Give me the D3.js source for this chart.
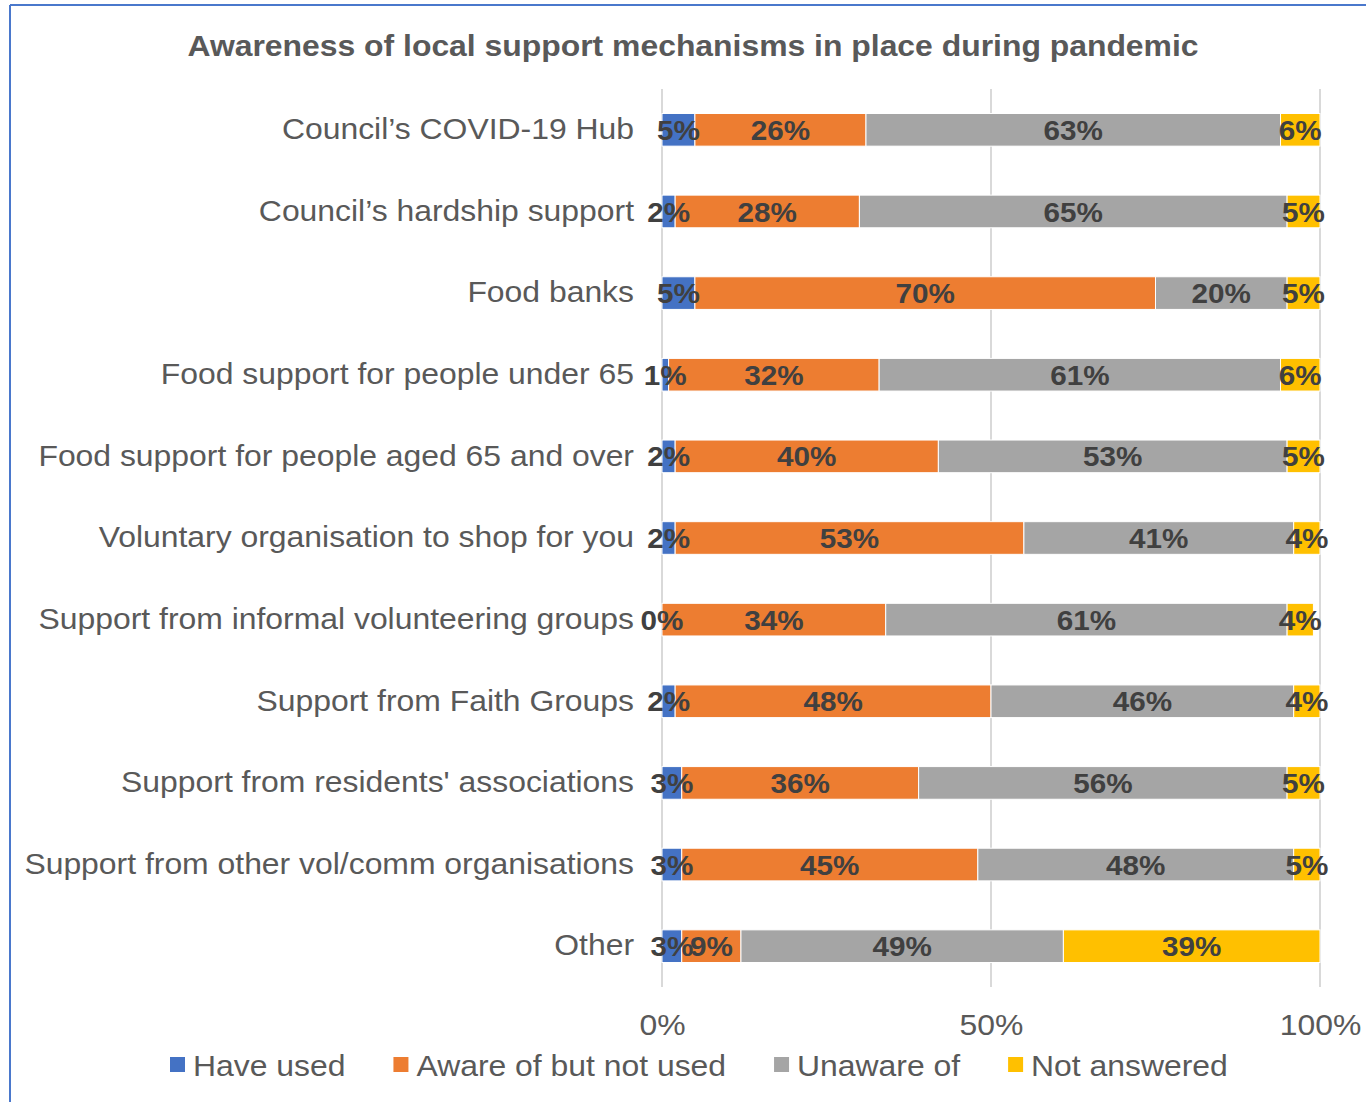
<!DOCTYPE html>
<html>
<head>
<meta charset="utf-8">
<script src="https://cdn.jsdelivr.net/npm/d3@7/dist/d3.min.js"></script>
<style>
  html, body { margin: 0; padding: 0; background: #fff; }
  svg { display: block; font-family: "Liberation Sans", Arial, sans-serif; }
</style>
</head>
<body>
<svg id="chart" width="1366" height="1102"></svg>
<script>
// Survey categories (top to bottom)
const categories = [
  "Council\u2019s COVID-19 Hub",
  "Council\u2019s hardship support",
  "Food banks",
  "Food support for people under 65",
  "Food support for people aged 65 and over",
  "Voluntary organisation to shop for you",
  "Support from informal volunteering groups",
  "Support from Faith Groups",
  "Support from residents' associations",
  "Support from other vol/comm organisations",
  "Other"
];

// Response shares (%) per category
const haveUsed     = [5, 2, 5, 1, 2, 2, 0, 2, 3, 3, 3];
const awareNotUsed = [26, 28, 70, 32, 40, 53, 34, 48, 36, 45, 9];
const unawareOf    = [63, 65, 20, 61, 53, 41, 61, 46, 56, 48, 49];
const notAnswered  = [6, 5, 5, 6, 5, 4, 4, 4, 5, 5, 39];

const seriesNames = ["Have used", "Aware of but not used", "Unaware of", "Not answered"];
const seriesColors = ["#4472C4", "#ED7D31", "#A5A5A5", "#FFC000"];
const tickValues = [0, 50, 100];
const chartTitle = "Awareness of local support mechanisms in place during pandemic";

const rows = categories.map((c, i) => ({
  category: c,
  "Have used": haveUsed[i],
  "Aware of but not used": awareNotUsed[i],
  "Unaware of": unawareOf[i],
  "Not answered": notAnswered[i]
}));

const svg = d3.select("#chart");
const W = 1366, H = 1102;
const SX = 1.1;   // horizontal widening applied to text
const SXV = 1.06; // widening for the value labels

// frame lines along top and left edges
svg.append("line").attr("x1", 10).attr("x2", W).attr("y1", 5).attr("y2", 5)
  .attr("stroke", "#4A78CC").attr("stroke-width", 2);
svg.append("line").attr("x1", 10).attr("x2", 10).attr("y1", 5).attr("y2", H)
  .attr("stroke", "#4A78CC").attr("stroke-width", 2);

const plot = { left: 662, right: 1320, top: 89, bottom: 987 };

const x = d3.scaleLinear().domain([0, 100]).range([plot.left, plot.right]).clamp(true);
const y = d3.scaleBand().domain(categories).range([plot.top, plot.bottom])
  .paddingInner(0.6).paddingOuter(0.3);

// title
svg.append("text")
  .attr("transform", `translate(693,56) scale(${SX},1)`)
  .attr("text-anchor", "middle")
  .attr("font-size", 29).attr("font-weight", "bold")
  .attr("fill", "#595959")
  .text(chartTitle);

// vertical gridlines
svg.append("g").selectAll("line").data(tickValues).join("line")
  .attr("x1", d => x(d)).attr("x2", d => x(d))
  .attr("y1", plot.top).attr("y2", plot.bottom)
  .attr("stroke", "#D9D9D9").attr("stroke-width", 2);

// stacked segments
const stacked = d3.stack().keys(seriesNames)(rows);

const layers = svg.append("g").selectAll("g").data(stacked).join("g")
  .attr("fill", (d, i) => seriesColors[i]);

layers.selectAll("rect").data(d => d).join("rect")
  .attr("x", s => x(s[0]))
  .attr("width", s => Math.max(0, x(s[1]) - x(s[0])))
  .attr("y", s => y(s.data.category))
  .attr("height", y.bandwidth())
  .attr("stroke", "#FFFFFF").attr("stroke-width", 1);

// value labels
const labels = svg.append("g");
stacked.forEach(layer => {
  layer.forEach(s => {
    const cx = (x(s[0]) + x(s[1])) / 2;
    const cy = y(s.data.category) + y.bandwidth() / 2;
    labels.append("text")
      .attr("transform", `translate(${cx},${cy}) scale(${SXV},1)`)
      .attr("dy", "0.36em")
      .attr("text-anchor", "middle")
      .attr("font-size", 28).attr("font-weight", "bold")
      .attr("fill", "#404040")
      .text(s.data[layer.key] + "%");
  });
});

// category axis labels
const pad = 28;
const yAxis = d3.axisLeft(y).tickSize(0).tickPadding(pad);
const yg = svg.append("g").attr("transform", `translate(${plot.left},0)`).call(yAxis);
yg.select(".domain").remove();
yg.selectAll("text")
  .attr("x", 0)
  .attr("transform", `translate(${-pad},0) scale(${SX},1)`)
  .attr("font-size", 29).attr("fill", "#595959")
  .attr("font-family", "Liberation Sans, Arial, sans-serif");

// percentage axis labels
const xAxis = d3.axisBottom(x).tickValues(tickValues).tickFormat(d => d + "%").tickSize(0).tickPadding(0);
const xg = svg.append("g").attr("transform", `translate(0,${plot.bottom + 27})`).call(xAxis);
xg.select(".domain").remove();
xg.selectAll("text")
  .attr("transform", `scale(${SX},1)`)
  .attr("font-size", 29).attr("fill", "#595959")
  .attr("font-family", "Liberation Sans, Arial, sans-serif");

// legend
const legend = svg.append("g");
let lx = 170;
seriesNames.forEach((name, i) => {
  const g = legend.append("g").attr("transform", `translate(${lx},1057)`);
  g.append("rect").attr("width", 15).attr("height", 15).attr("fill", seriesColors[i]);
  const t = g.append("text").attr("transform", `translate(23,19) scale(${SX},1)`)
    .attr("font-size", 29).attr("fill", "#595959").text(name);
  lx += 23 + t.node().getComputedTextLength() * SX + 48;
});
</script>
</body>
</html>
